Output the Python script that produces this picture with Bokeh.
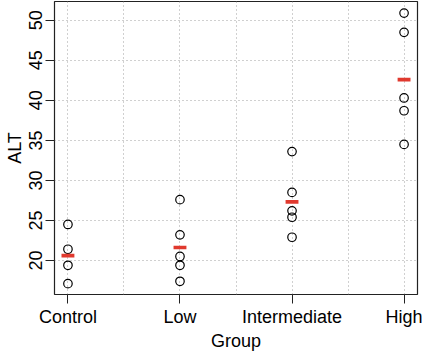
from bokeh.plotting import figure
from bokeh.models import FixedTicker, Range1d, ColumnDataSource
from bokeh.embed import file_html
from bokeh.resources import INLINE

groups = ["Control", "Low", "Intermediate", "High"]
control = [24.5, 21.4, 19.4, 17.1]
low = [27.6, 23.2, 20.5, 19.4, 17.4]
intermediate = [33.6, 28.5, 26.2, 25.4, 22.9]
high = [50.9, 48.5, 40.3, 38.7, 34.5]
y_ticks = [20, 25, 30, 35, 40, 45, 50]

series = [control, low, intermediate, high]
xs, ys = [], []
for i, vals in enumerate(series):
    xs += [i + 1] * len(vals)
    ys += vals
means = [sum(v) / len(v) for v in series]
mx = list(range(1, len(groups) + 1))

FONT = "Liberation Sans"

p = figure(width=422, height=353, output_backend="svg", toolbar_location=None,
           x_range=Range1d(0.88, 4.12), y_range=Range1d(15.75, 52.35),
           min_border_left=54, min_border_right=5, min_border_top=1, min_border_bottom=57)
p.background_fill_color = "white"
p.border_fill_color = "white"
p.outline_line_color = "#222222"
p.outline_line_width = 1.2

# grid
p.xgrid.ticker = FixedTicker(ticks=[1, 1.5, 2, 2.5, 3, 3.5, 4])
p.ygrid.ticker = FixedTicker(ticks=y_ticks)
for g in (p.xgrid, p.ygrid):
    g.grid_line_color = "#a0a0a0"
    g.grid_line_dash = "1 3"
    g.grid_line_width = 1

# axes
xa = p.xaxis[0]
xa.ticker = FixedTicker(ticks=mx)
xa.major_label_overrides = {i + 1: g for i, g in enumerate(groups)}
xa.axis_label = "Group"
ya = p.yaxis[0]
ya.ticker = FixedTicker(ticks=y_ticks)
ya.axis_label = "ALT"
ya.major_label_orientation = "vertical"
for ax in (xa, ya):
    ax.axis_line_color = None
    ax.major_tick_line_color = "#222222"
    ax.major_tick_line_width = 1
    ax.major_tick_out = 9
    ax.major_tick_in = 0
    ax.minor_tick_line_color = None
    ax.major_label_text_font = FONT
    ax.major_label_text_font_size = "18px"
    ax.major_label_text_color = "black"
    ax.axis_label_text_font = FONT
    ax.axis_label_text_font_size = "18px"
    ax.axis_label_text_font_style = "normal"
    ax.axis_label_text_color = "black"
xa.major_label_standoff = 3
xa.axis_label_standoff = 1
ya.major_label_standoff = 3
ya.axis_label_standoff = 2

src = ColumnDataSource(dict(x=xs, y=ys))
p.scatter("x", "y", source=src, size=8.5, fill_color=None, line_color="black", line_width=1.2)
p.rect(x=mx, y=means, width=0.115, height=3.7, height_units="screen",
       fill_color="#e0392e", line_color=None)

open("out.html", "w").write(file_html(p, INLINE))
